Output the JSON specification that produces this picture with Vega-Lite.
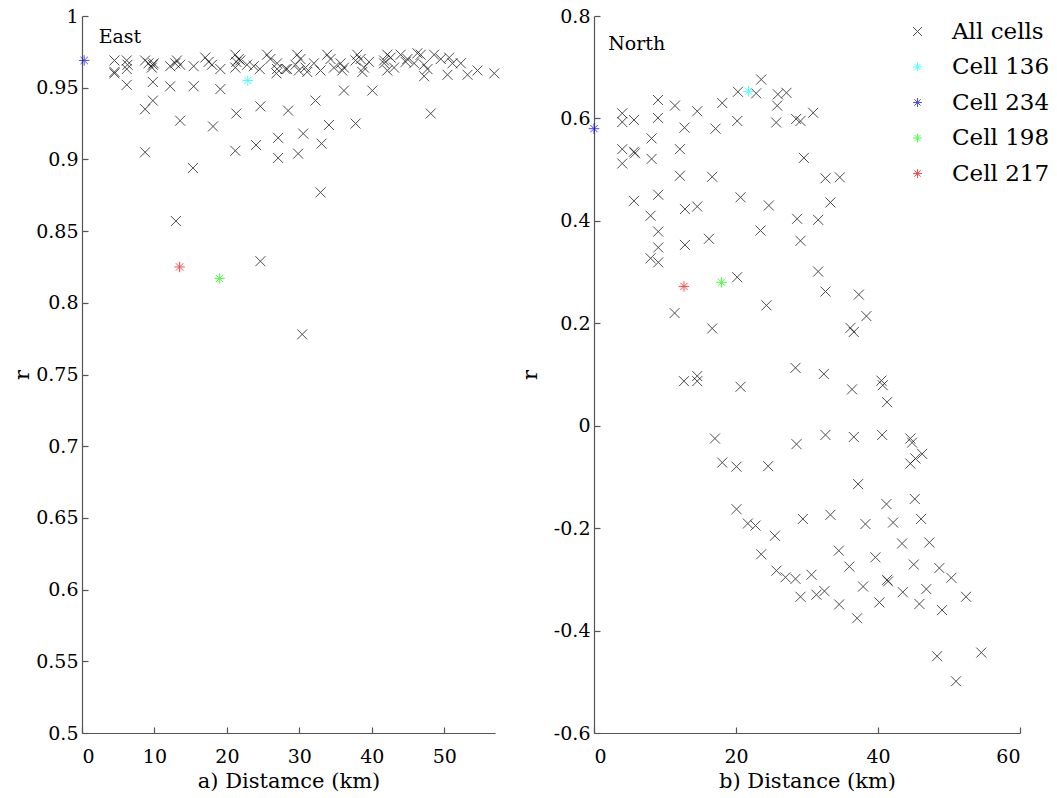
{
  "$schema": "https://vega.github.io/schema/vega-lite/v6.json",
  "background": "white",
  "padding": {"left": 11, "top": 7, "right": 5, "bottom": 5},
  "bounds": "flush",
  "spacing": 99,
  "config": {
    "font": "DejaVu Serif",
    "view": {"stroke": null},
    "axis": {
      "grid": false,
      "domainColor": "#555555",
      "domainWidth": 1.2,
      "tickColor": "#555555",
      "tickWidth": 1.2,
      "tickSize": -6,
      "labelColor": "black",
      "titleColor": "black",
      "labelFont": "DejaVu Serif",
      "titleFont": "DejaVu Serif",
      "labelFontSize": 19,
      "titleFontSize": 21,
      "titleFontWeight": "normal",
      "labelPadding": 10
    },
    "legend": {
      "labelFont": "DejaVu Serif",
      "labelFontSize": 23,
      "labelColor": "black",
      "symbolStrokeWidth": 1,
      "symbolSize": 80,
      "padding": 0,
      "rowPadding": 11.5,
      "labelOffset": 23
    }
  },
  "datasets": {
    "east": [
      {"d":4.48,"r":0.969},{"d":4.48,"r":0.961},{"d":4.48,"r":0.960},
      {"d":6.18,"r":0.969},{"d":6.28,"r":0.966},{"d":6.18,"r":0.963},{"d":6.18,"r":0.952},
      {"d":8.71,"r":0.969},{"d":9.18,"r":0.967},{"d":9.78,"r":0.966},{"d":9.64,"r":0.964},{"d":9.88,"r":0.967},
      {"d":9.78,"r":0.954},{"d":9.78,"r":0.941},{"d":8.71,"r":0.935},{"d":8.71,"r":0.905},
      {"d":12.17,"r":0.965},{"d":12.86,"r":0.967},{"d":13.55,"r":0.966},{"d":13.10,"r":0.969},
      {"d":12.17,"r":0.951},{"d":13.55,"r":0.927},{"d":12.96,"r":0.857},
      {"d":15.41,"r":0.965},{"d":15.41,"r":0.951},{"d":15.31,"r":0.894},
      {"d":17.01,"r":0.971},{"d":17.48,"r":0.968},{"d":17.94,"r":0.966},{"d":19.09,"r":0.963},
      {"d":19.09,"r":0.949},{"d":18.08,"r":0.923},
      {"d":21.16,"r":0.973},{"d":21.63,"r":0.970},{"d":21.30,"r":0.968},{"d":21.16,"r":0.964},{"d":21.85,"r":0.969},
      {"d":22.78,"r":0.966},{"d":23.71,"r":0.965},{"d":24.54,"r":0.963},
      {"d":21.30,"r":0.932},{"d":24.62,"r":0.937},
      {"d":25.55,"r":0.973},{"d":26.00,"r":0.970},{"d":26.93,"r":0.967},{"d":26.93,"r":0.963},{"d":26.83,"r":0.960},{"d":28.31,"r":0.963},{"d":29.46,"r":0.966},
      {"d":28.45,"r":0.934},
      {"d":29.70,"r":0.973},{"d":30.15,"r":0.970},{"d":29.93,"r":0.962},{"d":30.84,"r":0.964},
      {"d":32.01,"r":0.967},{"d":32.92,"r":0.962},
      {"d":33.84,"r":0.973},{"d":34.30,"r":0.970},{"d":34.77,"r":0.964},{"d":35.68,"r":0.967},{"d":35.92,"r":0.962},
      {"d":37.99,"r":0.973},{"d":38.45,"r":0.970},{"d":38.92,"r":0.964},{"d":38.69,"r":0.961},{"d":39.61,"r":0.968},
      {"d":42.14,"r":0.973},{"d":42.60,"r":0.971},{"d":41.69,"r":0.967},{"d":43.07,"r":0.964},{"d":42.14,"r":0.962},
      {"d":43.98,"r":0.973},{"d":44.91,"r":0.970},
      {"d":46.29,"r":0.974},{"d":46.75,"r":0.973},{"d":45.84,"r":0.967},{"d":47.22,"r":0.966},{"d":47.68,"r":0.963},
      {"d":48.60,"r":0.973},{"d":49.52,"r":0.970},
      {"d":50.68,"r":0.971},{"d":51.13,"r":0.967},{"d":52.28,"r":0.967},
      {"d":47.22,"r":0.958},{"d":50.44,"r":0.959},{"d":53.21,"r":0.959},{"d":54.59,"r":0.962},{"d":56.90,"r":0.960},
      {"d":36.15,"r":0.948},{"d":40.07,"r":0.948},
      {"d":32.23,"r":0.941},
      {"d":48.13,"r":0.932},
      {"d":34.08,"r":0.924},{"d":37.76,"r":0.925},
      {"d":21.16,"r":0.906},{"d":24.02,"r":0.910},{"d":27.07,"r":0.915},{"d":30.53,"r":0.918},{"d":33.06,"r":0.911},{"d":27.07,"r":0.901},{"d":29.83,"r":0.904},
      {"d":32.92,"r":0.877},{"d":24.62,"r":0.829},{"d":30.39,"r":0.778},
      {"d":28.08,"r":0.963},{"d":31.08,"r":0.961},{"d":36.15,"r":0.964},{"d":37.76,"r":0.969},{"d":41.69,"r":0.969},{"d":44.67,"r":0.968}
    ],
    "eastcells": [
      {"d":22.88,"r":0.955,"s":"Cell 136"},
      {"d":0.3,"r":0.969,"s":"Cell 234"},
      {"d":18.99,"r":0.817,"s":"Cell 198"},
      {"d":13.47,"r":0.825,"s":"Cell 217"}
    ],
    "north": [
      {"d":3.98,"r":0.610},{"d":3.98,"r":0.593},{"d":5.63,"r":0.597},{"d":9.01,"r":0.636},{"d":9.01,"r":0.601},{"d":11.40,"r":0.625},{"d":14.54,"r":0.614},{"d":18.06,"r":0.630},{"d":20.27,"r":0.652},{"d":22.84,"r":0.649},{"d":23.55,"r":0.676},{"d":20.17,"r":0.595},{"d":12.75,"r":0.582},{"d":17.12,"r":0.580},{"d":8.11,"r":0.561},{"d":3.98,"r":0.540},{"d":5.63,"r":0.535},{"d":5.77,"r":0.532},{"d":3.98,"r":0.512},{"d":8.11,"r":0.521},{"d":12.10,"r":0.540},{"d":12.10,"r":0.488},{"d":16.65,"r":0.486},
      {"d":25.90,"r":0.647},{"d":27.11,"r":0.650},{"d":25.80,"r":0.625},{"d":25.66,"r":0.592},{"d":28.47,"r":0.599},{"d":29.08,"r":0.595},{"d":30.87,"r":0.611},{"d":29.56,"r":0.523},{"d":32.60,"r":0.483},{"d":34.62,"r":0.485},
      {"d":5.63,"r":0.439},{"d":9.05,"r":0.451},{"d":7.97,"r":0.410},{"d":9.05,"r":0.379},{"d":9.05,"r":0.348},{"d":7.97,"r":0.327},{"d":9.05,"r":0.319},{"d":12.81,"r":0.423},{"d":14.54,"r":0.428},{"d":12.81,"r":0.353},{"d":16.19,"r":0.365},{"d":20.17,"r":0.290},{"d":20.64,"r":0.446},{"d":24.63,"r":0.430},{"d":23.45,"r":0.381},{"d":11.35,"r":0.220},{"d":16.65,"r":0.190},{"d":24.29,"r":0.235},{"d":28.61,"r":0.404},{"d":31.57,"r":0.402},{"d":29.08,"r":0.361},{"d":31.57,"r":0.301},{"d":32.60,"r":0.262},{"d":37.30,"r":0.256},{"d":38.37,"r":0.214},{"d":36.12,"r":0.191},{"d":36.59,"r":0.183},{"d":33.30,"r":0.436},
      {"d":12.67,"r":0.087},{"d":14.54,"r":0.097},{"d":14.54,"r":0.087},{"d":20.64,"r":0.076},{"d":28.38,"r":0.113},{"d":32.37,"r":0.101},{"d":36.35,"r":0.071},{"d":40.48,"r":0.088},{"d":40.67,"r":0.079},{"d":41.28,"r":0.046},
      {"d":17.03,"r":-0.025},{"d":18.06,"r":-0.072},{"d":20.07,"r":-0.080},{"d":24.53,"r":-0.079},{"d":28.52,"r":-0.036},{"d":32.60,"r":-0.018},{"d":36.59,"r":-0.022},{"d":40.58,"r":-0.018},{"d":44.56,"r":-0.025},{"d":44.80,"r":-0.033},{"d":44.56,"r":-0.074},{"d":45.27,"r":-0.064},{"d":46.21,"r":-0.055},{"d":37.20,"r":-0.114},{"d":41.19,"r":-0.153},{"d":45.18,"r":-0.143},
      {"d":20.07,"r":-0.163},{"d":21.67,"r":-0.191},{"d":22.75,"r":-0.195},{"d":25.47,"r":-0.215},{"d":23.55,"r":-0.251},{"d":25.70,"r":-0.283},{"d":26.97,"r":-0.296},{"d":28.38,"r":-0.299},{"d":30.63,"r":-0.291},{"d":29.08,"r":-0.334},{"d":31.33,"r":-0.330},{"d":32.46,"r":-0.323},{"d":29.42,"r":-0.182},{"d":33.30,"r":-0.174},{"d":34.48,"r":-0.244},{"d":35.97,"r":-0.275},{"d":34.53,"r":-0.349},{"d":37.06,"r":-0.376},{"d":38.23,"r":-0.192},{"d":37.90,"r":-0.314},{"d":39.64,"r":-0.257},{"d":40.20,"r":-0.345},{"d":41.28,"r":-0.301},{"d":41.42,"r":-0.304},{"d":42.13,"r":-0.189},{"d":43.39,"r":-0.230},{"d":43.49,"r":-0.325},{"d":45.04,"r":-0.271},{"d":46.07,"r":-0.182},{"d":45.83,"r":-0.348},{"d":46.81,"r":-0.319},{"d":47.23,"r":-0.228},{"d":48.64,"r":-0.278},{"d":49.02,"r":-0.360},{"d":50.33,"r":-0.297},{"d":52.40,"r":-0.334},{"d":48.32,"r":-0.450},{"d":50.99,"r":-0.499},{"d":54.55,"r":-0.443}
    ],
    "northcells": [
      {"d":21.76,"r":0.653,"s":"Cell 136"},
      {"d":0.0,"r":0.580,"s":"Cell 234"},
      {"d":17.96,"r":0.280,"s":"Cell 198"},
      {"d":12.67,"r":0.272,"s":"Cell 217"}
    ]
  },
  "resolve": {"scale": {"color": "independent", "shape": "independent"}},
  "hconcat": [
    {
      "width": 413,
      "height": 717,
      "layer": [
        {
          "data": {"name": "east"},
          "mark": {"type": "point", "filled": false, "strokeWidth": 1, "size": 100},
          "encoding": {
            "x": {"field": "d", "type": "quantitative", "scale": {"domain": [0, 57], "nice": false, "zero": false},
              "axis": {"title": "a) Distamce (km)", "values": [0, 10, 20, 30, 40, 50], "labelExpr": "'' + datum.value", "titlePadding": 4, "labelPadding": 20}},
            "y": {"field": "r", "type": "quantitative", "scale": {"domain": [0.5, 1], "nice": false, "zero": false},
              "axis": {"title": "r", "values": [0.5, 0.55, 0.6, 0.65, 0.7, 0.75, 0.8, 0.85, 0.9, 0.95, 1], "labelExpr": "'' + datum.value", "labelPadding": 10, "titlePadding": 3}},
            "shape": {"datum": "All cells", "type": "nominal", "legend": null,
              "scale": {"domain": ["All cells", "Cell 136", "Cell 234", "Cell 198", "Cell 217"],
                "range": ["M-1,-1L1,1M-1,1L1,-1", "M-1,0L1,0M0,-1L0,1M-0.7,-0.7L0.7,0.7M-0.7,0.7L0.7,-0.7", "M-1,0L1,0M0,-1L0,1M-0.7,-0.7L0.7,0.7M-0.7,0.7L0.7,-0.7", "M-1,0L1,0M0,-1L0,1M-0.7,-0.7L0.7,0.7M-0.7,0.7L0.7,-0.7", "M-1,0L1,0M0,-1L0,1M-0.7,-0.7L0.7,0.7M-0.7,0.7L0.7,-0.7"]}},
            "color": {"datum": "All cells", "type": "nominal", "legend": null,
              "scale": {"domain": ["All cells", "Cell 136", "Cell 234", "Cell 198", "Cell 217"],
                "range": ["#000000", "#00FFFF", "#0000FF", "#00FF00", "#FF0000"]}}
          }
        },
        {
          "data": {"name": "eastcells"},
          "mark": {"type": "point", "filled": false, "strokeWidth": 1, "size": 110},
          "encoding": {
            "x": {"field": "d", "type": "quantitative"},
            "y": {"field": "r", "type": "quantitative"},
            "shape": {"field": "s", "type": "nominal", "legend": null},
            "color": {"field": "s", "type": "nominal", "legend": null}
          }
        },
        {
          "data": {"values": [{}]},
          "mark": {"type": "text", "text": "East", "align": "left", "baseline": "alphabetic", "fontSize": 19, "font": "DejaVu Serif", "color": "black"},
          "encoding": {"x": {"datum": 2.3}, "y": {"datum": 0.981}}
        }
      ]
    },
    {
      "width": 426,
      "height": 717,
      "layer": [
        {
          "data": {"name": "north"},
          "mark": {"type": "point", "filled": false, "strokeWidth": 1, "size": 100},
          "encoding": {
            "x": {"field": "d", "type": "quantitative", "scale": {"domain": [0, 60], "nice": false, "zero": false},
              "axis": {"title": "b) Distance (km)", "values": [0, 20, 40, 60], "labelExpr": "'' + datum.value", "titlePadding": 4, "labelPadding": 20}},
            "y": {"field": "r", "type": "quantitative", "scale": {"domain": [-0.6, 0.8], "nice": false, "zero": false},
              "axis": {"title": "r", "values": [-0.6, -0.4, -0.2, 0, 0.2, 0.4, 0.6, 0.8], "labelExpr": "'' + datum.value", "labelPadding": 10, "titlePadding": 13}},
            "shape": {"datum": "All cells", "type": "nominal",
              "legend": {"orient": "none", "legendX": 312, "legendY": 4, "title": null},
              "scale": {"domain": ["All cells", "Cell 136", "Cell 234", "Cell 198", "Cell 217"],
                "range": ["M-1,-1L1,1M-1,1L1,-1", "M-1,0L1,0M0,-1L0,1M-0.7,-0.7L0.7,0.7M-0.7,0.7L0.7,-0.7", "M-1,0L1,0M0,-1L0,1M-0.7,-0.7L0.7,0.7M-0.7,0.7L0.7,-0.7", "M-1,0L1,0M0,-1L0,1M-0.7,-0.7L0.7,0.7M-0.7,0.7L0.7,-0.7", "M-1,0L1,0M0,-1L0,1M-0.7,-0.7L0.7,0.7M-0.7,0.7L0.7,-0.7"]}},
            "color": {"datum": "All cells", "type": "nominal",
              "legend": {"orient": "none", "legendX": 312, "legendY": 4, "title": null},
              "scale": {"domain": ["All cells", "Cell 136", "Cell 234", "Cell 198", "Cell 217"],
                "range": ["#000000", "#00FFFF", "#0000FF", "#00FF00", "#FF0000"]}}
          }
        },
        {
          "data": {"name": "northcells"},
          "mark": {"type": "point", "filled": false, "strokeWidth": 1, "size": 110},
          "encoding": {
            "x": {"field": "d", "type": "quantitative"},
            "y": {"field": "r", "type": "quantitative"},
            "shape": {"field": "s", "type": "nominal", "legend": {"orient": "none", "legendX": 312, "legendY": 4, "title": null}},
            "color": {"field": "s", "type": "nominal", "legend": {"orient": "none", "legendX": 312, "legendY": 4, "title": null}}
          }
        },
        {
          "data": {"values": [{}]},
          "mark": {"type": "text", "text": "North", "align": "left", "baseline": "alphabetic", "fontSize": 19, "font": "DejaVu Serif", "color": "black"},
          "encoding": {"x": {"datum": 2.0}, "y": {"datum": 0.733}}
        }
      ]
    }
  ]
}
